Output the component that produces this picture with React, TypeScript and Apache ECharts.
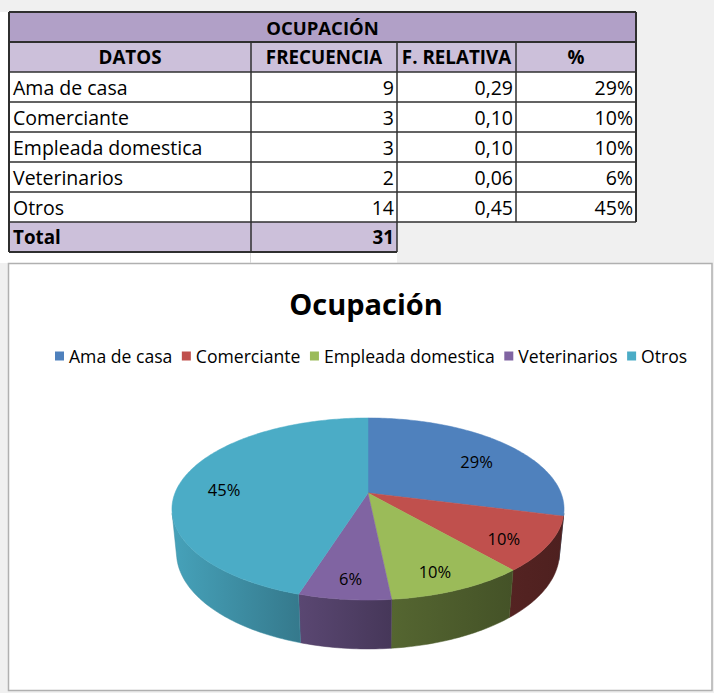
import React, { useEffect, useRef } from "react";
import * as echarts from "echarts";

// ---------- DATA ----------
const tableTitle = "OCUPACIÓN";
const headers = ["DATOS", "FRECUENCIA", "F. RELATIVA", "%"];
const categories = ["Ama de casa", "Comerciante", "Empleada domestica", "Veterinarios", "Otros"];
const frequencies = [9, 3, 3, 2, 14];
const relativeFreq = [0.29, 0.1, 0.1, 0.06, 0.45];
const percentValues = [29, 10, 10, 6, 45];
const totalLabel = "Total";
const totalValue = 31;
const chartTitle = "Ocupación";
const colors = ["#4F81BD", "#C0504D", "#9BBB59", "#8064A2", "#4BACC6"];

// ---------- STYLE / LAYOUT ----------
const FONT = '"Open Sans", sans-serif';
const colX = [9, 251, 397, 516, 636];
const tableTop = 12;
const rowH = 30;

// 3D pie projection (perspective)
const PHI = (27.2 * Math.PI) / 180;
const CP = Math.cos(PHI);
const SP = Math.sin(PHI);
const CAM_D = 5.06;
const FOCAL = 976.6;
const PIE_CX = 368;
const PIE_CY = 493;
const DEPTH = 0.256;

function proj(theta: number, r: number, z: number): number[] {
  const a = (theta * Math.PI) / 180;
  const s = r * Math.sin(a);
  const t = -r * Math.cos(a);
  const dd = CAM_D - t * CP - z * SP;
  return [PIE_CX + (FOCAL * s) / dd, PIE_CY + (FOCAL * (t * SP - z * CP)) / dd];
}
function arc(a: number, b: number, r: number, z: number): number[][] {
  const n = Math.max(2, Math.ceil(Math.abs(b - a)));
  const pts: number[][] = [];
  for (let i = 0; i <= n; i++) pts.push(proj(a + ((b - a) * i) / n, r, z));
  return pts;
}
const VIS = (Math.acos(-1 / (CAM_D * CP)) * 180) / Math.PI;
const shadeStops = [
  [100, 0.4],
  [140, 0.44],
  [175, 0.55],
  [198, 0.71],
  [260, 0.95],
];
function shadeFactor(th: number): number {
  if (th <= shadeStops[0][0]) return shadeStops[0][1];
  for (let i = 1; i < shadeStops.length; i++) {
    if (th <= shadeStops[i][0]) {
      const [x0, y0] = shadeStops[i - 1];
      const [x1, y1] = shadeStops[i];
      return y0 + ((y1 - y0) * (th - x0)) / (x1 - x0);
    }
  }
  return shadeStops[shadeStops.length - 1][1];
}
function shade(hex: string, f: number): string {
  const n = parseInt(hex.slice(1), 16);
  const r = Math.round(((n >> 16) & 255) * f);
  const g = Math.round(((n >> 8) & 255) * f);
  const b = Math.round((n & 255) * f);
  return `rgb(${r},${g},${b})`;
}

function fmtComma(v: number) {
  return v.toFixed(2).replace(".", ",");
}

function rect(x: number, y: number, w: number, h: number, fill: string, extra: any = {}) {
  return { type: "rect", silent: true, z: 0, shape: { x, y, width: w, height: h }, style: { fill, ...extra } };
}
function line(x1: number, y1: number, x2: number, y2: number, stroke = "#2f2f2f", lw = 1.5) {
  return { type: "line", silent: true, z: 1, shape: { x1, y1, x2, y2 }, style: { stroke, lineWidth: lw } };
}
function txt(x: number, y: number, text: string, align: string, bold = false, size = 19.5) {
  return {
    type: "text",
    silent: true,
    z: 2,
    x,
    y,
    style: {
      text,
      fill: "#000",
      fontFamily: FONT,
      fontSize: size,
      fontWeight: bold ? "bold" : "normal",
      align,
      verticalAlign: "middle",
    },
  };
}

function buildGraphics() {
  const els: any[] = [];
  const n = categories.length;
  const L = colX[0];
  const R = colX[4];
  const headTop = tableTop + rowH;
  const dataTop = tableTop + 2 * rowH;
  const totalTop = dataTop + n * rowH;
  const bottom = totalTop + rowH;
  // white sheet area on the left
  els.push(rect(0, tableTop, colX[2], 263 - tableTop, "#ffffff"));
  els.push(line(colX[1] - 0.5, bottom, colX[1] - 0.5, 263, "#d9d9d9", 1));
  // chart box
  els.push(rect(8.5, 263.5, 703.5, 427, "#ffffff", { stroke: "#b0b0b0", lineWidth: 1.5 }));
  // table fills
  els.push(rect(L, tableTop, R - L, rowH, "#B1A0C7"));
  els.push(rect(L, headTop, R - L, rowH, "#CCC0DA"));
  els.push(rect(L, dataTop, R - L, n * rowH, "#ffffff"));
  els.push(rect(L, totalTop, colX[2] - L, rowH, "#CCC0DA"));
  // horizontal lines
  for (let r = 0; r <= n + 2; r++) {
    const y = tableTop + r * rowH;
    els.push(line(L, y, R, y, "#2f2f2f", r === 0 || r === 1 ? 2 : 1.5));
  }
  els.push(line(L, bottom, colX[2], bottom, "#2f2f2f", 2));
  // vertical lines
  els.push(line(L, tableTop, L, bottom, "#2f2f2f", 2));
  els.push(line(colX[1], headTop, colX[1], bottom));
  els.push(line(colX[2], headTop, colX[2], bottom));
  els.push(line(colX[3], headTop, colX[3], totalTop));
  els.push(line(R, tableTop, R, totalTop, "#2f2f2f", 2));
  // texts
  els.push(txt((L + R) / 2, tableTop + rowH / 2, tableTitle, "center", true, 18.5));
  headers.forEach((h, i) => {
    els.push(txt((colX[i] + colX[i + 1]) / 2, headTop + rowH / 2, h, "center", true, 18.8));
  });
  categories.forEach((c, i) => {
    const y = dataTop + i * rowH + rowH / 2;
    els.push(txt(L + 4, y, c, "left"));
    els.push(txt(colX[2] - 3, y, String(frequencies[i]), "right"));
    els.push(txt(colX[3] - 3, y, fmtComma(relativeFreq[i]), "right"));
    els.push(txt(colX[4] - 3, y, percentValues[i] + "%", "right"));
  });
  els.push(txt(L + 4, totalTop + rowH / 2, totalLabel, "left", true, 18.8));
  els.push(txt(colX[2] - 3, totalTop + rowH / 2, String(totalValue), "right", true, 18.8));
  // chart title
  els.push(txt(366, 303, chartTitle, "center", true, 29));
  return els;
}

function buildOption() {
  const sum = frequencies.reduce((a, b) => a + b, 0);
  let cum = 0;
  const series = categories.map((name, i) => {
    const start = (360 * cum) / sum;
    cum += frequencies[i];
    const end = (360 * cum) / sum;
    const col = colors[i];
    const pct = Math.round((frequencies[i] / sum) * 100) + "%";
    return {
      type: "custom",
      name,
      coordinateSystem: "none",
      silent: true,
      itemStyle: { color: col },
      data: [[start, end]],
      renderItem: (params: any, api: any) => {
        const a = api.value(0);
        const b = api.value(1);
        const children: any[] = [];
        const sa = Math.max(a, VIS);
        const sb = Math.min(b, 360 - VIS);
        if (sb > sa) {
          const top = arc(sa, sb, 1, 0);
          const bot = arc(sb, sa, 1, -DEPTH);
          children.push({
            type: "polygon",
            shape: { points: top.concat(bot) },
            style: {
              fill: new echarts.graphic.LinearGradient(0, 0, 1, 0, [
                { offset: 0, color: shade(col, shadeFactor(sb)) },
                { offset: 1, color: shade(col, shadeFactor(sa)) },
              ]),
              stroke: shade(col, shadeFactor((sa + sb) / 2)),
              lineWidth: 0.5,
            },
          });
        }
        children.push({
          type: "polygon",
          shape: { points: [proj(0, 0, 0)].concat(arc(a, b, 1, 0)) },
          style: { fill: col, stroke: col, lineWidth: 0.5 },
        });
        const lp = proj((a + b) / 2, 0.77, 0);
        children.push({
          type: "text",
          x: lp[0],
          y: lp[1] + 7,
          z2: 10,
          style: {
            text: pct,
            fill: "#000",
            fontFamily: FONT,
            fontSize: 16.5,
            align: "center",
            verticalAlign: "middle",
          },
        });
        return { type: "group", children };
      },
    };
  });

  return {
    animation: false,
    backgroundColor: "#f0f0f0",
    graphic: { elements: buildGraphics() },
    legend: {
      data: categories,
      left: 55,
      top: 347,
      padding: 0,
      itemWidth: 9,
      itemHeight: 9,
      itemGap: 9.5,
      icon: "rect",
      selectedMode: false,
      textStyle: { fontFamily: FONT, fontSize: 17.6, color: "#000" },
    },
    series,
  };
}

export default function App() {
  const ref = useRef<HTMLDivElement>(null);
  useEffect(() => {
    document.body.style.margin = "0";
    const chart = echarts.init(ref.current as HTMLDivElement, null, { renderer: "svg" });
    chart.setOption(buildOption() as any);
    return () => chart.dispose();
  }, []);
  return (
    <div
      ref={ref}
      style={{ position: "absolute", left: 0, top: 0, width: 714, height: 693 }}
    />
  );
}
